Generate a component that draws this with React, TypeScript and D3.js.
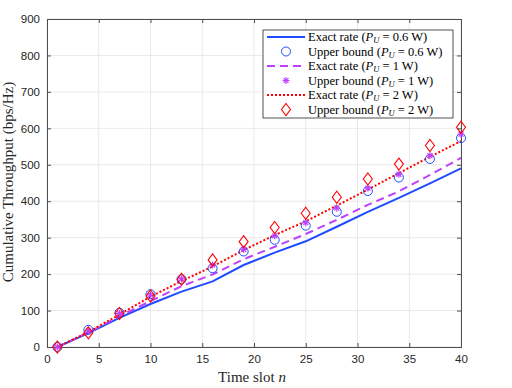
import { useEffect, useRef } from "react";
import * as d3 from "d3";

// time slots where values are sampled
const slots = [1, 4, 7, 10, 13, 16, 19, 22, 25, 28, 31, 34, 37, 40];

// exact rates
const exact06 = [0, 38, 80, 118, 152, 180, 225, 259, 290, 330, 371, 409, 449, 490];
const exact1 = [0, 40, 84, 126, 167, 199, 241, 275, 310, 349, 390, 427, 472, 519];
const exact2 = [0, 41, 89, 138, 181, 221, 266, 307, 345, 388, 432, 477, 522, 565];

// upper bounds (markers)
const upper06 = [0, 47, 94, 145, 186, 216, 262, 294, 333, 371, 428, 465, 516, 573];
const upper1 = [0, 44, 92, 143, 187, 225, 268, 305, 341, 381, 436, 474, 525, 584];
const upper2 = [0, 39, 92, 140, 186, 239, 289, 328, 367, 411, 461, 502, 553, 603];

const xTicks = [0, 5, 10, 15, 20, 25, 30, 35, 40];
const yTicks = [0, 100, 200, 300, 400, 500, 600, 700, 800, 900];

const legendPower = ["0.6", "1", "2"];

const BLUE = "#1f4cff";
const PURPLE = "#bf40ff";
const RED = "#ff0000";

export default function App() {
  const ref = useRef<SVGSVGElement>(null);

  useEffect(() => {
    const svg = d3.select(ref.current);
    svg.selectAll("*").remove();

    const left = 47, right = 461, top = 19, bottom = 347;
    const x = d3.scaleLinear().domain([0, 40]).range([left, right]);
    const y = d3.scaleLinear().domain([0, 900]).range([bottom, top]);

    const tickFont = "'Liberation Sans', Arial, sans-serif";
    const serif = "'Liberation Serif', 'Times New Roman', serif";

    // background
    svg.append("rect").attr("x", left).attr("y", top)
      .attr("width", right - left).attr("height", bottom - top).attr("fill", "#fff");

    // grid
    const grid = svg.append("g").attr("stroke", "#e3e3e3").attr("stroke-width", 0.8);
    xTicks.forEach(t => grid.append("line").attr("x1", x(t)).attr("x2", x(t)).attr("y1", top).attr("y2", bottom));
    yTicks.forEach(t => grid.append("line").attr("x1", left).attr("x2", right).attr("y1", y(t)).attr("y2", y(t)));

    // axes (box on)
    const axisColor = "#4d4d4d";
    svg.append("g").attr("transform", `translate(0,${bottom})`)
      .call(d3.axisBottom(x).tickValues(xTicks).tickSize(-4).tickPadding(8).tickFormat(d3.format("d")));
    svg.append("g").attr("transform", `translate(${left},0)`)
      .call(d3.axisLeft(y).tickValues(yTicks).tickSize(-4).tickPadding(7).tickFormat(d3.format("d")));
    svg.append("g").attr("transform", `translate(0,${top})`)
      .call(d3.axisTop(x).tickValues(xTicks).tickSize(-4).tickFormat(() => ""));
    svg.append("g").attr("transform", `translate(${right},0)`)
      .call(d3.axisRight(y).tickValues(yTicks).tickSize(-4).tickFormat(() => ""));
    svg.selectAll(".domain, .tick line").attr("stroke", axisColor);
    svg.selectAll(".tick text").attr("fill", "#262626").style("font-family", tickFont).style("font-size", "11.5px");

    const line = d3.line<number>().x((_, i) => x(slots[i])).y(d => y(d));

    // exact rate lines
    svg.append("path").datum(exact06).attr("d", line).attr("fill", "none")
      .attr("stroke", BLUE).attr("stroke-width", 2);
    svg.append("path").datum(exact1).attr("d", line).attr("fill", "none")
      .attr("stroke", PURPLE).attr("stroke-width", 2).attr("stroke-dasharray", "8,5");
    svg.append("path").datum(exact2).attr("d", line).attr("fill", "none")
      .attr("stroke", RED).attr("stroke-width", 2).attr("stroke-dasharray", "2,2");

    // markers
    const drawCircle = (g: any, cx: number, cy: number) =>
      g.append("circle").attr("cx", cx).attr("cy", cy).attr("r", 4.5)
        .attr("fill", "none").attr("stroke", BLUE).attr("stroke-width", 1);
    const drawStar = (g: any, cx: number, cy: number) => {
      const s = 3.5;
      const p = g.append("g").attr("stroke", PURPLE).attr("stroke-width", 1.2);
      p.append("line").attr("x1", cx - s).attr("x2", cx + s).attr("y1", cy).attr("y2", cy);
      p.append("line").attr("x1", cx).attr("x2", cx).attr("y1", cy - s).attr("y2", cy + s);
      p.append("line").attr("x1", cx - s * 0.7).attr("x2", cx + s * 0.7).attr("y1", cy - s * 0.7).attr("y2", cy + s * 0.7);
      p.append("line").attr("x1", cx - s * 0.7).attr("x2", cx + s * 0.7).attr("y1", cy + s * 0.7).attr("y2", cy - s * 0.7);
    };
    const drawDiamond = (g: any, cx: number, cy: number) =>
      g.append("path").attr("d", `M${cx},${cy - 6}L${cx + 4.5},${cy}L${cx},${cy + 6}L${cx - 4.5},${cy}Z`)
        .attr("fill", "none").attr("stroke", RED).attr("stroke-width", 1.1);

    const markers = svg.append("g");
    upper06.forEach((v, i) => drawCircle(markers, x(slots[i]), y(v)));
    upper1.forEach((v, i) => drawStar(markers, x(slots[i]), y(v)));
    upper2.forEach((v, i) => drawDiamond(markers, x(slots[i]), y(v)));

    // axis labels
    const xl = svg.append("text").attr("x", 252).attr("y", 382)
      .attr("text-anchor", "middle").style("font-family", serif).style("font-size", "15px").attr("fill", "#262626");
    xl.append("tspan").text("Time slot ");
    xl.append("tspan").attr("font-style", "italic").text("n");

    svg.append("text").attr("transform", `translate(13,${182}) rotate(-90)`)
      .attr("text-anchor", "middle").style("font-family", serif).style("font-size", "15px")
      .attr("fill", "#262626").text("Cumulative Throughput (bps/Hz)");

    // legend
    const lg = svg.append("g");
    lg.append("rect").attr("x", 263).attr("y", 30).attr("width", 190).attr("height", 88)
      .attr("fill", "#fff").attr("stroke", "#262626").attr("stroke-width", 0.8);
    const rowY = (i: number) => 37 + i * 14.5;
    const items = [
      { kind: "line", label: "Exact rate", p: 0 },
      { kind: "circle", label: "Upper bound", p: 0 },
      { kind: "line", label: "Exact rate", p: 1 },
      { kind: "star", label: "Upper bound", p: 1 },
      { kind: "line", label: "Exact rate", p: 2 },
      { kind: "diamond", label: "Upper bound", p: 2 },
    ];
    const styles = [
      { c: BLUE, dash: null },
      { c: PURPLE, dash: "8,5" },
      { c: RED, dash: "2,2" },
    ];
    items.forEach((it, i) => {
      const yy = rowY(i);
      const st = styles[it.p];
      if (it.kind === "line") {
        lg.append("line").attr("x1", 267).attr("x2", 305).attr("y1", yy).attr("y2", yy)
          .attr("stroke", st.c).attr("stroke-width", 2).attr("stroke-dasharray", st.dash);
      } else if (it.kind === "circle") drawCircle(lg, 286, yy);
      else if (it.kind === "star") drawStar(lg, 286, yy);
      else drawDiamond(lg, 286, yy);
      const t = lg.append("text").attr("x", 308).attr("y", yy + 4)
        .style("font-family", serif).style("font-size", "12.5px").attr("fill", "#000");
      t.append("tspan").text(`${it.label} (`);
      t.append("tspan").attr("font-style", "italic").text("P");
      t.append("tspan").attr("font-style", "italic").attr("font-size", "8.5px").attr("dy", 2).text("U");
      t.append("tspan").attr("dy", -2).text(` = ${legendPower[it.p]} W)`);
    });
  }, []);

  return (
    <svg ref={ref} width={512} height={388}
      style={{ position: "absolute", left: 0, top: 0, background: "#fff" }} />
  );
}
